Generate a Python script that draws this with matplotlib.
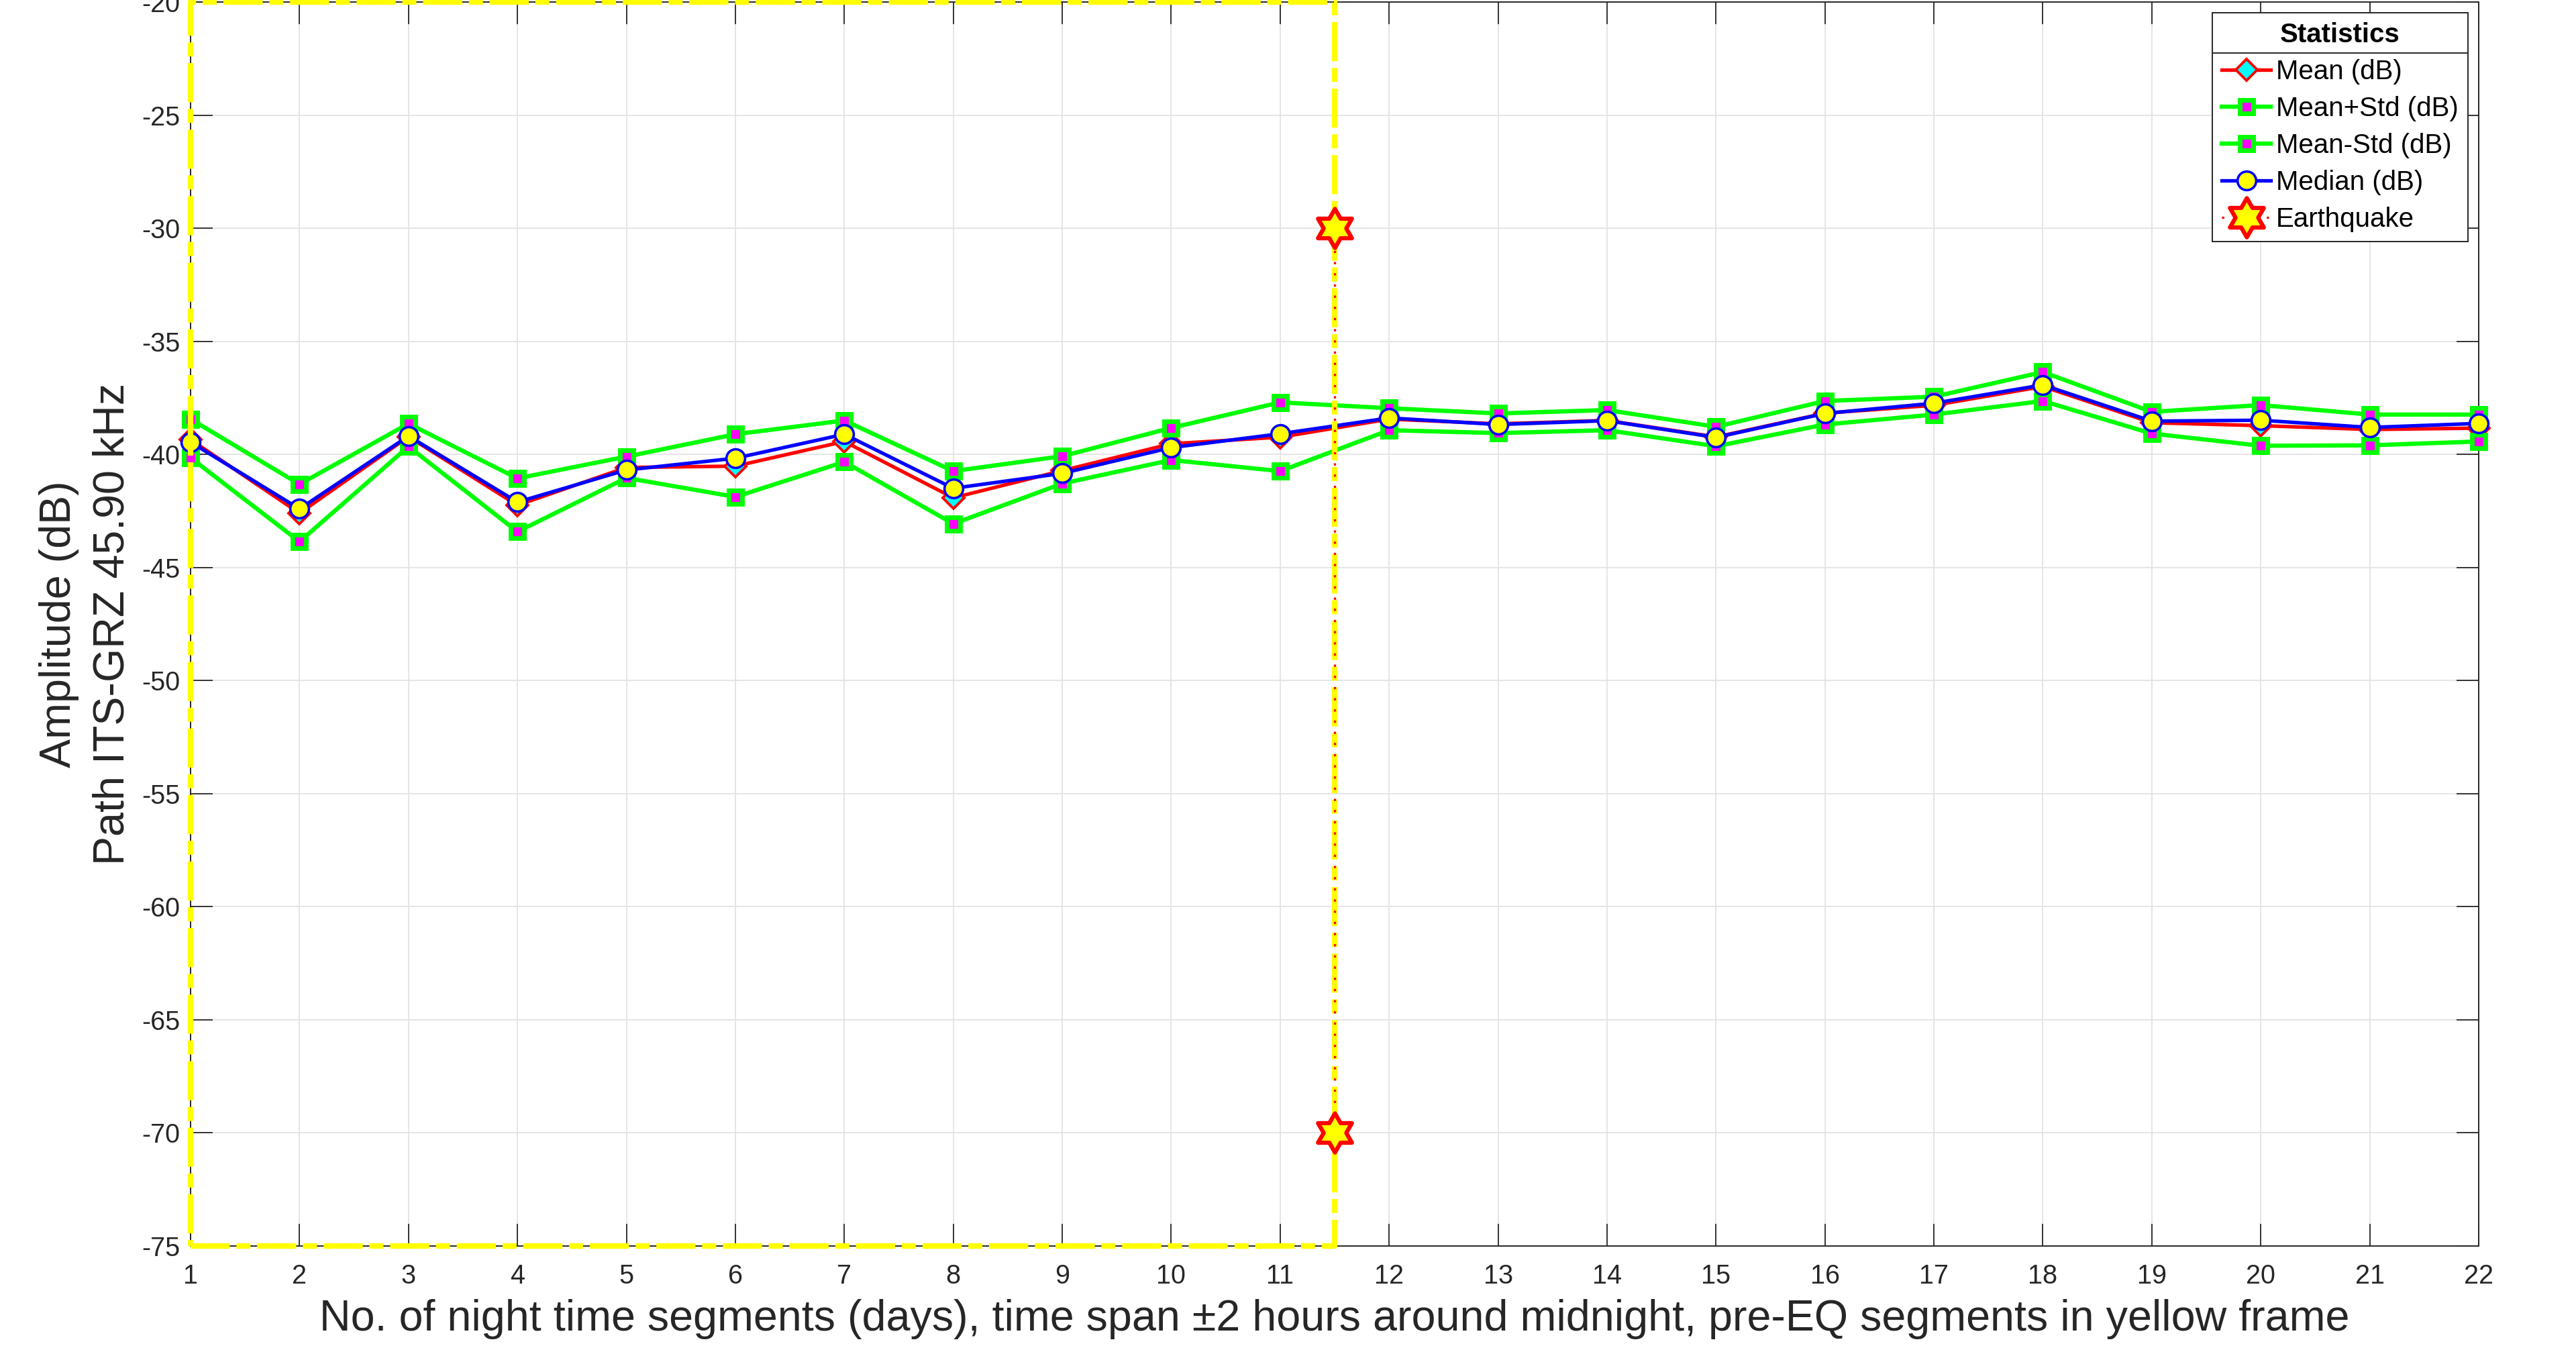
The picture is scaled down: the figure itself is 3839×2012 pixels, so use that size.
import matplotlib
matplotlib.use("Agg")
import matplotlib.pyplot as plt
from matplotlib.path import Path
from matplotlib.lines import Line2D

plt.rcParams['font.family'] = ['Liberation Sans', 'DejaVu Sans']
plt.rcParams['axes.unicode_minus'] = False

# ---------------- data ----------------
days = list(range(1, 23))
mean_db = [-39.35, -42.60, -39.22, -42.25, -40.58, -40.52, -39.43, -41.92, -40.72,
           -39.53, -39.24, -38.44, -38.65, -38.50, -39.23, -38.18, -37.83, -37.00,
           -38.60, -38.73, -38.90, -38.84]
mean_plus_std = [-38.44, -41.32, -38.64, -41.06, -40.10, -39.11, -38.50, -40.74, -40.08,
                 -38.83, -37.70, -37.96, -38.19, -38.04, -38.78, -37.64, -37.45, -36.36,
                 -38.12, -37.82, -38.24, -38.24]
mean_minus_std = [-40.15, -43.86, -39.65, -43.42, -41.04, -41.88, -40.33, -43.07, -41.29,
                  -40.25, -40.74, -38.93, -39.06, -38.93, -39.64, -38.68, -38.24, -37.64,
                  -39.08, -39.62, -39.60, -39.43]
median_db = [-39.46, -42.41, -39.19, -42.11, -40.69, -40.17, -39.11, -41.50, -40.84,
             -39.70, -39.09, -38.39, -38.68, -38.51, -39.25, -38.19, -37.74, -36.93,
             -38.53, -38.49, -38.81, -38.63]
eq_day = 11.5
eq_marker_db = [-30, -70]
y_min, y_max = -75, -20
yticks = list(range(-75, -19, 5))

xlabel = ("No. of night time segments (days), time span \u00b12 hours around midnight, "
          "pre-EQ segments in yellow frame")
ylabel = "Amplitude (dB)\nPath ITS-GRZ 45.90 kHz"

# ---------------- figure ----------------
W, H = 3839, 2012
fig = plt.figure(figsize=(W / 100, H / 100), dpi=100)
ax_l, ax_r, ax_t, ax_b = 284, 3694, 3, 1857
ax = fig.add_axes([ax_l / W, 1 - ax_b / H, (ax_r - ax_l) / W, (ax_b - ax_t) / H])

dark = '#262626'
hexagram = Path.unit_regular_star(6, innerCircle=0.577)

ax.plot(days, mean_db, color='#FF0000', lw=3.8, marker='D', ms=16, mfc='#00FFFF',
        mec='#FF0000', mew=2.8, label='Mean (dB)', zorder=3, clip_on=False)
ax.plot(days, mean_plus_std, color='#00FF00', lw=4.6, marker='s', ms=14, mfc='#FF00FF',
        mec='#00FF00', mew=5, label='Mean+Std (dB)', zorder=3, clip_on=False)
ax.plot(days, mean_minus_std, color='#00FF00', lw=4.6, marker='s', ms=14, mfc='#FF00FF',
        mec='#00FF00', mew=5, label='Mean-Std (dB)', zorder=3, clip_on=False)
ax.plot(days, median_db, color='#0000FF', lw=3.8, marker='o', ms=20, mfc='#FFFF00',
        mec='#0000FF', mew=2.6, label='Median (dB)', zorder=3, clip_on=False)

# yellow frame around pre-EQ segments
fx = [days[0], eq_day, eq_day, days[0], days[0]]
fy = [y_min, y_min, y_max, y_max, y_min]
ax.plot(fx, fy, color='#FFFF00', lw=6, ls=(0, (7, 1.2, 2.5, 1.2)), zorder=4, clip_on=False)

# earthquake marker line
ax.plot([eq_day, eq_day], eq_marker_db, color='#FF0000', ls=(0, (1, 4)), lw=2.4,
        marker=hexagram, ms=42, mfc='#FFFF00', mec='#FF0000', mew=4.5,
        label='Earthquake', zorder=5, clip_on=False)

ax.set_xlim(days[0], days[-1])
ax.set_ylim(y_min, y_max)
ax.set_xticks(days)
ax.set_yticks(yticks)
ax.grid(True, color='#E3E3E3', lw=1.3)
ax.set_axisbelow(True)
for s in ax.spines.values():
    s.set_color(dark)
    s.set_linewidth(1.4)
ax.tick_params(direction='in', length=24, width=1.3, colors=dark, labelsize=28.5,
               top=True, right=True)
ax.tick_params(axis='x', pad=19)
ax.tick_params(axis='y', pad=11)

ax.set_xlabel(xlabel, fontsize=46.5, color=dark, va='center')
ax.xaxis.set_label_coords(0.5, -(1966 - ax_b) / (ax_b - ax_t))
ax.set_ylabel(ylabel, fontsize=46.5, color=dark, va='center', ha='center', linespacing=1.42)
ax.yaxis.set_label_coords(-(ax_l - 128) / (ax_r - ax_l), 0.5)

leg = ax.legend(loc='upper right', fontsize=29, title='Statistics',
                title_fontproperties={'weight': 'bold', 'size': 29},
                frameon=True, fancybox=False, framealpha=1, edgecolor=dark,
                borderaxespad=0.4, handlelength=1.8, handletextpad=0.2,
                labelspacing=0.42, borderpad=0.35)
leg.get_frame().set_linewidth(1.4)

fig.canvas.draw()
r = fig.canvas.get_renderer()
lb = leg.get_window_extent(r)
tb = leg.get_title().get_window_extent(r)
ysep = tb.y0 - 8
inv = fig.transFigure.inverted()
x0, y0 = inv.transform((lb.x0, ysep))
x1, _ = inv.transform((lb.x1, ysep))
fig.add_artist(Line2D([x0, x1], [y0, y0], transform=fig.transFigure, color=dark, lw=1.4,
                      zorder=10))

fig.savefig('out.png', dpi=100)
